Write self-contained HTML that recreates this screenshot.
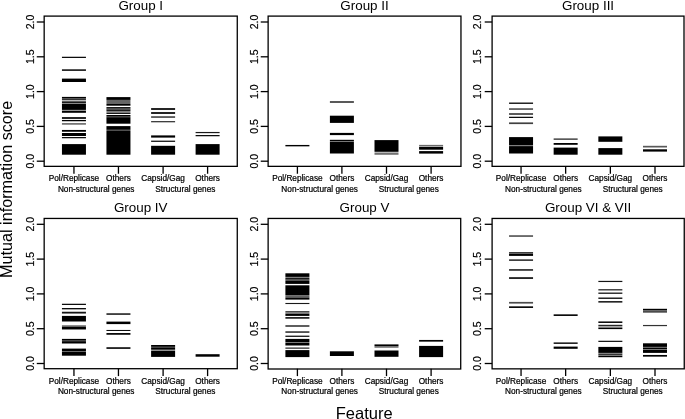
<!DOCTYPE html>
<html><head><meta charset="utf-8"><title>Mutual information score by feature</title>
<style>
html,body{margin:0;padding:0;background:#fff}
svg{display:block}
text{font-family:"Liberation Sans",Arial,Helvetica,sans-serif;fill:#000}
.t{font-size:13.4px;text-anchor:middle}
.x{font-size:8.25px;text-anchor:middle;stroke:#000;stroke-width:.22px}
.y{font-size:10.5px;text-anchor:middle;stroke:#000;stroke-width:.2px}
.b{font-size:16.3px;text-anchor:middle}
.ln{stroke:#000;stroke-width:1.3;fill:none}
</style></head>
<body>
<svg width="685" height="419" viewBox="0 0 685 419">
<rect x="0" y="0" width="685" height="419" fill="#fff"/>
<g>
<rect class="ln" x="44.17" y="16.10" width="193.10" height="150.25"/>
<text class="t" x="140.72" y="10.00">Group I</text>
<line class="ln" x1="36.77" y1="161.20" x2="44.17" y2="161.20"/>
<text class="y" transform="translate(34.37,161.20) rotate(-90)">0.0</text>
<line class="ln" x1="36.77" y1="126.40" x2="44.17" y2="126.40"/>
<text class="y" transform="translate(34.37,126.40) rotate(-90)">0.5</text>
<line class="ln" x1="36.77" y1="91.60" x2="44.17" y2="91.60"/>
<text class="y" transform="translate(34.37,91.60) rotate(-90)">1.0</text>
<line class="ln" x1="36.77" y1="56.80" x2="44.17" y2="56.80"/>
<text class="y" transform="translate(34.37,56.80) rotate(-90)">1.5</text>
<line class="ln" x1="36.77" y1="22.00" x2="44.17" y2="22.00"/>
<text class="y" transform="translate(34.37,22.00) rotate(-90)">2.0</text>
<line class="ln" x1="73.95" y1="166.35" x2="73.95" y2="173.75"/>
<text class="x" x="73.95" y="181.35">Pol/Replicase</text>
<line class="ln" x1="118.45" y1="166.35" x2="118.45" y2="173.75"/>
<text class="x" x="118.45" y="181.35">Others</text>
<line class="ln" x1="163.10" y1="166.35" x2="163.10" y2="173.75"/>
<text class="x" x="163.10" y="181.35">Capsid/Gag</text>
<line class="ln" x1="207.60" y1="166.35" x2="207.60" y2="173.75"/>
<text class="x" x="207.60" y="181.35">Others</text>
<text class="x" x="96.20" y="191.95">Non-structural genes</text>
<text class="x" x="185.35" y="191.95">Structural genes</text>
<rect x="61.95" y="56.75" width="24.00" height="1.20"/>
<rect x="61.95" y="69.25" width="24.00" height="1.70" fill-opacity="0.88"/>
<rect x="61.95" y="78.60" width="24.00" height="3.40"/>
<rect x="61.95" y="96.90" width="24.00" height="1.10"/>
<rect x="61.95" y="98.00" width="24.00" height="0.50" fill-opacity="0.7"/>
<rect x="61.95" y="98.50" width="24.00" height="1.30"/>
<rect x="61.95" y="100.10" width="24.00" height="1.20" fill-opacity="0.3"/>
<rect x="61.95" y="101.40" width="24.00" height="1.50"/>
<rect x="61.95" y="103.00" width="24.00" height="0.80" fill-opacity="0.5"/>
<rect x="61.95" y="103.90" width="24.00" height="6.00"/>
<rect x="61.95" y="110.10" width="24.00" height="0.70" fill-opacity="0.5"/>
<rect x="61.95" y="110.90" width="24.00" height="1.90"/>
<rect x="61.95" y="117.15" width="24.00" height="1.70"/>
<rect x="61.95" y="119.95" width="24.00" height="1.30"/>
<rect x="61.95" y="123.10" width="24.00" height="1.60" fill-opacity="0.6"/>
<rect x="61.95" y="129.95" width="24.00" height="1.80"/>
<rect x="61.95" y="133.00" width="24.00" height="3.00"/>
<rect x="61.95" y="137.05" width="24.00" height="1.20"/>
<rect x="61.95" y="144.10" width="24.00" height="10.60"/>
<rect x="106.45" y="97.10" width="24.00" height="2.80"/>
<rect x="106.45" y="99.90" width="24.00" height="4.10" fill-opacity="0.6"/>
<rect x="106.45" y="104.00" width="24.00" height="1.70"/>
<rect x="106.45" y="107.10" width="24.00" height="1.10"/>
<rect x="106.45" y="108.20" width="24.00" height="1.50" fill-opacity="0.78"/>
<rect x="106.45" y="109.70" width="24.00" height="1.20"/>
<rect x="106.45" y="111.00" width="24.00" height="1.90" fill-opacity="0.5"/>
<rect x="106.45" y="112.90" width="24.00" height="1.00"/>
<rect x="106.45" y="115.00" width="24.00" height="1.10"/>
<rect x="106.45" y="116.10" width="24.00" height="1.10" fill-opacity="0.78"/>
<rect x="106.45" y="117.20" width="24.00" height="6.50"/>
<rect x="106.45" y="126.10" width="24.00" height="3.70"/>
<rect x="106.45" y="129.80" width="24.00" height="1.10" fill-opacity="0.72"/>
<rect x="106.45" y="130.90" width="24.00" height="23.80"/>
<rect x="151.10" y="108.15" width="24.00" height="1.70"/>
<rect x="151.10" y="112.15" width="24.00" height="1.70"/>
<rect x="151.10" y="116.20" width="24.00" height="1.70" fill-opacity="0.7"/>
<rect x="151.10" y="121.25" width="24.00" height="1.00"/>
<rect x="151.10" y="135.40" width="24.00" height="2.20"/>
<rect x="151.10" y="140.65" width="24.00" height="1.20"/>
<rect x="151.10" y="145.80" width="24.00" height="8.90"/>
<rect x="195.60" y="131.95" width="24.00" height="1.20" fill-opacity="0.9"/>
<rect x="195.60" y="135.05" width="24.00" height="1.20"/>
<rect x="195.60" y="144.10" width="24.00" height="10.60"/>
</g>
<g>
<rect class="ln" x="268.13" y="16.10" width="192.83" height="150.25"/>
<text class="t" x="364.54" y="10.00">Group II</text>
<line class="ln" x1="260.73" y1="161.20" x2="268.13" y2="161.20"/>
<text class="y" transform="translate(257.93,161.20) rotate(-90)">0.0</text>
<line class="ln" x1="260.73" y1="126.40" x2="268.13" y2="126.40"/>
<text class="y" transform="translate(257.93,126.40) rotate(-90)">0.5</text>
<line class="ln" x1="260.73" y1="91.60" x2="268.13" y2="91.60"/>
<text class="y" transform="translate(257.93,91.60) rotate(-90)">1.0</text>
<line class="ln" x1="260.73" y1="56.80" x2="268.13" y2="56.80"/>
<text class="y" transform="translate(257.93,56.80) rotate(-90)">1.5</text>
<line class="ln" x1="260.73" y1="22.00" x2="268.13" y2="22.00"/>
<text class="y" transform="translate(257.93,22.00) rotate(-90)">2.0</text>
<line class="ln" x1="297.40" y1="166.35" x2="297.40" y2="173.75"/>
<text class="x" x="297.40" y="181.35">Pol/Replicase</text>
<line class="ln" x1="341.90" y1="166.35" x2="341.90" y2="173.75"/>
<text class="x" x="341.90" y="181.35">Others</text>
<line class="ln" x1="386.50" y1="166.35" x2="386.50" y2="173.75"/>
<text class="x" x="386.50" y="181.35">Capsid/Gag</text>
<line class="ln" x1="431.10" y1="166.35" x2="431.10" y2="173.75"/>
<text class="x" x="431.10" y="181.35">Others</text>
<text class="x" x="319.65" y="191.95">Non-structural genes</text>
<text class="x" x="408.80" y="191.95">Structural genes</text>
<rect x="285.40" y="144.95" width="24.00" height="1.40"/>
<rect x="329.90" y="101.00" width="24.00" height="2.00" fill-opacity="0.65"/>
<rect x="329.90" y="115.70" width="24.00" height="7.20"/>
<rect x="329.90" y="132.90" width="24.00" height="2.20"/>
<rect x="329.90" y="139.80" width="24.00" height="1.40"/>
<rect x="329.90" y="141.20" width="24.00" height="0.70" fill-opacity="0.5"/>
<rect x="329.90" y="141.90" width="24.00" height="11.60"/>
<rect x="374.50" y="140.10" width="24.00" height="11.70"/>
<rect x="374.50" y="152.50" width="24.00" height="2.30" fill-opacity="0.55"/>
<rect x="419.10" y="144.90" width="24.00" height="0.90" fill-opacity="0.7"/>
<rect x="419.10" y="145.90" width="24.00" height="1.00" fill-opacity="0.35"/>
<rect x="419.10" y="147.00" width="24.00" height="2.70"/>
<rect x="419.10" y="151.10" width="24.00" height="2.50"/>
</g>
<g>
<rect class="ln" x="492.10" y="16.10" width="191.90" height="150.25"/>
<text class="t" x="588.05" y="10.00">Group III</text>
<line class="ln" x1="484.70" y1="161.20" x2="492.10" y2="161.20"/>
<text class="y" transform="translate(481.30,161.20) rotate(-90)">0.0</text>
<line class="ln" x1="484.70" y1="126.40" x2="492.10" y2="126.40"/>
<text class="y" transform="translate(481.30,126.40) rotate(-90)">0.5</text>
<line class="ln" x1="484.70" y1="91.60" x2="492.10" y2="91.60"/>
<text class="y" transform="translate(481.30,91.60) rotate(-90)">1.0</text>
<line class="ln" x1="484.70" y1="56.80" x2="492.10" y2="56.80"/>
<text class="y" transform="translate(481.30,56.80) rotate(-90)">1.5</text>
<line class="ln" x1="484.70" y1="22.00" x2="492.10" y2="22.00"/>
<text class="y" transform="translate(481.30,22.00) rotate(-90)">2.0</text>
<line class="ln" x1="521.05" y1="166.35" x2="521.05" y2="173.75"/>
<text class="x" x="521.05" y="181.35">Pol/Replicase</text>
<line class="ln" x1="565.65" y1="166.35" x2="565.65" y2="173.75"/>
<text class="x" x="565.65" y="181.35">Others</text>
<line class="ln" x1="610.35" y1="166.35" x2="610.35" y2="173.75"/>
<text class="x" x="610.35" y="181.35">Capsid/Gag</text>
<line class="ln" x1="655.00" y1="166.35" x2="655.00" y2="173.75"/>
<text class="x" x="655.00" y="181.35">Others</text>
<text class="x" x="543.35" y="191.95">Non-structural genes</text>
<text class="x" x="632.67" y="191.95">Structural genes</text>
<rect x="509.05" y="102.55" width="24.00" height="1.30"/>
<rect x="509.05" y="108.35" width="24.00" height="1.40" fill-opacity="0.8"/>
<rect x="509.05" y="113.25" width="24.00" height="1.50" fill-opacity="0.85"/>
<rect x="509.05" y="116.75" width="24.00" height="1.20"/>
<rect x="509.05" y="122.40" width="24.00" height="1.70" fill-opacity="0.75"/>
<rect x="509.05" y="137.10" width="24.00" height="8.40"/>
<rect x="509.05" y="146.10" width="24.00" height="7.40"/>
<rect x="553.65" y="138.30" width="24.00" height="1.70" fill-opacity="0.65"/>
<rect x="553.65" y="143.00" width="24.00" height="1.80"/>
<rect x="553.65" y="147.60" width="24.00" height="7.10"/>
<rect x="598.35" y="136.40" width="24.00" height="5.40"/>
<rect x="598.35" y="148.10" width="24.00" height="6.60"/>
<rect x="643.00" y="145.80" width="24.00" height="1.70" fill-opacity="0.65"/>
<rect x="643.00" y="149.30" width="24.00" height="2.30"/>
</g>
<g>
<rect class="ln" x="44.17" y="218.45" width="193.10" height="150.25"/>
<text class="t" x="140.72" y="212.35">Group IV</text>
<line class="ln" x1="36.77" y1="363.50" x2="44.17" y2="363.50"/>
<text class="y" transform="translate(34.37,363.50) rotate(-90)">0.0</text>
<line class="ln" x1="36.77" y1="328.70" x2="44.17" y2="328.70"/>
<text class="y" transform="translate(34.37,328.70) rotate(-90)">0.5</text>
<line class="ln" x1="36.77" y1="293.90" x2="44.17" y2="293.90"/>
<text class="y" transform="translate(34.37,293.90) rotate(-90)">1.0</text>
<line class="ln" x1="36.77" y1="259.10" x2="44.17" y2="259.10"/>
<text class="y" transform="translate(34.37,259.10) rotate(-90)">1.5</text>
<line class="ln" x1="36.77" y1="224.30" x2="44.17" y2="224.30"/>
<text class="y" transform="translate(34.37,224.30) rotate(-90)">2.0</text>
<line class="ln" x1="73.95" y1="368.70" x2="73.95" y2="376.10"/>
<text class="x" x="73.95" y="383.70">Pol/Replicase</text>
<line class="ln" x1="118.45" y1="368.70" x2="118.45" y2="376.10"/>
<text class="x" x="118.45" y="383.70">Others</text>
<line class="ln" x1="163.10" y1="368.70" x2="163.10" y2="376.10"/>
<text class="x" x="163.10" y="383.70">Capsid/Gag</text>
<line class="ln" x1="207.60" y1="368.70" x2="207.60" y2="376.10"/>
<text class="x" x="207.60" y="383.70">Others</text>
<text class="x" x="96.20" y="394.30">Non-structural genes</text>
<text class="x" x="185.35" y="394.30">Structural genes</text>
<rect x="61.95" y="303.75" width="24.00" height="1.20"/>
<rect x="61.95" y="308.05" width="24.00" height="1.30"/>
<rect x="61.95" y="311.75" width="24.00" height="1.80" fill-opacity="0.92"/>
<rect x="61.95" y="315.90" width="24.00" height="5.60"/>
<rect x="61.95" y="325.20" width="24.00" height="1.40" fill-opacity="0.55"/>
<rect x="61.95" y="326.60" width="24.00" height="2.70"/>
<rect x="61.95" y="329.30" width="24.00" height="0.60" fill-opacity="0.4"/>
<rect x="61.95" y="338.90" width="24.00" height="1.40"/>
<rect x="61.95" y="340.30" width="24.00" height="1.70" fill-opacity="0.85"/>
<rect x="61.95" y="342.00" width="24.00" height="1.50"/>
<rect x="61.95" y="348.60" width="24.00" height="2.40"/>
<rect x="61.95" y="351.00" width="24.00" height="0.80" fill-opacity="0.6"/>
<rect x="61.95" y="351.80" width="24.00" height="3.90"/>
<rect x="106.45" y="313.35" width="24.00" height="1.40"/>
<rect x="106.45" y="321.60" width="24.00" height="2.50"/>
<rect x="106.45" y="329.95" width="24.00" height="1.00"/>
<rect x="106.45" y="333.05" width="24.00" height="1.70"/>
<rect x="106.45" y="347.25" width="24.00" height="1.60"/>
<rect x="151.10" y="345.00" width="24.00" height="1.80"/>
<rect x="151.10" y="346.80" width="24.00" height="1.10" fill-opacity="0.78"/>
<rect x="151.10" y="347.90" width="24.00" height="1.80"/>
<rect x="151.10" y="349.70" width="24.00" height="1.00" fill-opacity="0.25"/>
<rect x="151.10" y="350.70" width="24.00" height="6.20"/>
<rect x="195.60" y="354.20" width="24.00" height="2.50"/>
</g>
<g>
<rect class="ln" x="268.13" y="218.45" width="192.58" height="150.55"/>
<text class="t" x="364.54" y="212.35">Group V</text>
<line class="ln" x1="260.73" y1="363.50" x2="268.13" y2="363.50"/>
<text class="y" transform="translate(257.93,363.50) rotate(-90)">0.0</text>
<line class="ln" x1="260.73" y1="328.70" x2="268.13" y2="328.70"/>
<text class="y" transform="translate(257.93,328.70) rotate(-90)">0.5</text>
<line class="ln" x1="260.73" y1="293.90" x2="268.13" y2="293.90"/>
<text class="y" transform="translate(257.93,293.90) rotate(-90)">1.0</text>
<line class="ln" x1="260.73" y1="259.10" x2="268.13" y2="259.10"/>
<text class="y" transform="translate(257.93,259.10) rotate(-90)">1.5</text>
<line class="ln" x1="260.73" y1="224.30" x2="268.13" y2="224.30"/>
<text class="y" transform="translate(257.93,224.30) rotate(-90)">2.0</text>
<line class="ln" x1="297.40" y1="368.70" x2="297.40" y2="376.10"/>
<text class="x" x="297.40" y="383.70">Pol/Replicase</text>
<line class="ln" x1="341.90" y1="368.70" x2="341.90" y2="376.10"/>
<text class="x" x="341.90" y="383.70">Others</text>
<line class="ln" x1="386.50" y1="368.70" x2="386.50" y2="376.10"/>
<text class="x" x="386.50" y="383.70">Capsid/Gag</text>
<line class="ln" x1="431.10" y1="368.70" x2="431.10" y2="376.10"/>
<text class="x" x="431.10" y="383.70">Others</text>
<text class="x" x="319.65" y="394.30">Non-structural genes</text>
<text class="x" x="408.80" y="394.30">Structural genes</text>
<rect x="285.40" y="273.30" width="24.00" height="3.60"/>
<rect x="285.40" y="276.90" width="24.00" height="1.20" fill-opacity="0.5"/>
<rect x="285.40" y="278.10" width="24.00" height="1.40"/>
<rect x="285.40" y="279.50" width="24.00" height="1.40" fill-opacity="0.7"/>
<rect x="285.40" y="280.90" width="24.00" height="3.00"/>
<rect x="285.40" y="285.30" width="24.00" height="9.90"/>
<rect x="285.40" y="295.20" width="24.00" height="1.00" fill-opacity="0.55"/>
<rect x="285.40" y="296.20" width="24.00" height="1.60" fill-opacity="0.7"/>
<rect x="285.40" y="297.80" width="24.00" height="1.80"/>
<rect x="285.40" y="302.95" width="24.00" height="1.10" fill-opacity="0.9"/>
<rect x="285.40" y="311.00" width="24.00" height="1.30" fill-opacity="0.7"/>
<rect x="285.40" y="312.30" width="24.00" height="1.50" fill-opacity="0.5"/>
<rect x="285.40" y="313.80" width="24.00" height="2.10"/>
<rect x="285.40" y="317.15" width="24.00" height="1.50"/>
<rect x="285.40" y="325.10" width="24.00" height="1.80" fill-opacity="0.7"/>
<rect x="285.40" y="331.25" width="24.00" height="1.60" fill-opacity="0.8"/>
<rect x="285.40" y="335.65" width="24.00" height="1.20"/>
<rect x="285.40" y="338.90" width="24.00" height="3.20"/>
<rect x="285.40" y="342.10" width="24.00" height="0.80" fill-opacity="0.5"/>
<rect x="285.40" y="342.90" width="24.00" height="2.60"/>
<rect x="285.40" y="347.40" width="24.00" height="1.50" fill-opacity="0.7"/>
<rect x="285.40" y="350.10" width="24.00" height="7.00"/>
<rect x="329.90" y="351.30" width="24.00" height="4.70"/>
<rect x="374.50" y="344.40" width="24.00" height="1.70"/>
<rect x="374.50" y="346.10" width="24.00" height="1.70" fill-opacity="0.55"/>
<rect x="374.50" y="350.50" width="24.00" height="6.30"/>
<rect x="419.10" y="339.95" width="24.00" height="1.70"/>
<rect x="419.10" y="345.90" width="24.00" height="11.20"/>
</g>
<g>
<rect class="ln" x="492.10" y="218.45" width="192.15" height="150.40"/>
<text class="t" x="588.05" y="212.35">Group VI &amp; VII</text>
<line class="ln" x1="484.70" y1="363.50" x2="492.10" y2="363.50"/>
<text class="y" transform="translate(481.30,363.50) rotate(-90)">0.0</text>
<line class="ln" x1="484.70" y1="328.70" x2="492.10" y2="328.70"/>
<text class="y" transform="translate(481.30,328.70) rotate(-90)">0.5</text>
<line class="ln" x1="484.70" y1="293.90" x2="492.10" y2="293.90"/>
<text class="y" transform="translate(481.30,293.90) rotate(-90)">1.0</text>
<line class="ln" x1="484.70" y1="259.10" x2="492.10" y2="259.10"/>
<text class="y" transform="translate(481.30,259.10) rotate(-90)">1.5</text>
<line class="ln" x1="484.70" y1="224.30" x2="492.10" y2="224.30"/>
<text class="y" transform="translate(481.30,224.30) rotate(-90)">2.0</text>
<line class="ln" x1="521.05" y1="368.70" x2="521.05" y2="376.10"/>
<text class="x" x="521.05" y="383.70">Pol/Replicase</text>
<line class="ln" x1="565.65" y1="368.70" x2="565.65" y2="376.10"/>
<text class="x" x="565.65" y="383.70">Others</text>
<line class="ln" x1="610.35" y1="368.70" x2="610.35" y2="376.10"/>
<text class="x" x="610.35" y="383.70">Capsid/Gag</text>
<line class="ln" x1="655.00" y1="368.70" x2="655.00" y2="376.10"/>
<text class="x" x="655.00" y="383.70">Others</text>
<text class="x" x="543.35" y="394.30">Non-structural genes</text>
<text class="x" x="632.67" y="394.30">Structural genes</text>
<rect x="509.05" y="235.20" width="24.00" height="1.70" fill-opacity="0.65"/>
<rect x="509.05" y="252.05" width="24.00" height="0.90" fill-opacity="0.85"/>
<rect x="509.05" y="253.40" width="24.00" height="2.50"/>
<rect x="509.05" y="259.45" width="24.00" height="1.30"/>
<rect x="509.05" y="269.25" width="24.00" height="1.40"/>
<rect x="509.05" y="277.25" width="24.00" height="1.60"/>
<rect x="509.05" y="301.90" width="24.00" height="1.70" fill-opacity="0.7"/>
<rect x="509.05" y="306.35" width="24.00" height="1.60"/>
<rect x="553.65" y="314.35" width="24.00" height="1.60"/>
<rect x="553.65" y="342.45" width="24.00" height="1.40"/>
<rect x="553.65" y="346.60" width="24.00" height="2.20"/>
<rect x="598.35" y="280.85" width="24.00" height="1.20" fill-opacity="0.92"/>
<rect x="598.35" y="289.15" width="24.00" height="1.30" fill-opacity="0.85"/>
<rect x="598.35" y="292.55" width="24.00" height="1.30" fill-opacity="0.92"/>
<rect x="598.35" y="297.55" width="24.00" height="1.30"/>
<rect x="598.35" y="301.15" width="24.00" height="1.40"/>
<rect x="598.35" y="321.45" width="24.00" height="1.50"/>
<rect x="598.35" y="324.80" width="24.00" height="1.30" fill-opacity="0.85"/>
<rect x="598.35" y="326.10" width="24.00" height="1.50" fill-opacity="0.3"/>
<rect x="598.35" y="327.60" width="24.00" height="1.50"/>
<rect x="598.35" y="340.75" width="24.00" height="1.20" fill-opacity="0.95"/>
<rect x="598.35" y="346.90" width="24.00" height="6.00"/>
<rect x="598.35" y="352.90" width="24.00" height="0.80" fill-opacity="0.45"/>
<rect x="598.35" y="353.70" width="24.00" height="1.20" fill-opacity="0.88"/>
<rect x="598.35" y="354.90" width="24.00" height="0.70" fill-opacity="0.3"/>
<rect x="598.35" y="355.60" width="24.00" height="1.60"/>
<rect x="643.00" y="308.80" width="24.00" height="1.60"/>
<rect x="643.00" y="310.40" width="24.00" height="0.50" fill-opacity="0.5"/>
<rect x="643.00" y="310.90" width="24.00" height="1.80" fill-opacity="0.7"/>
<rect x="643.00" y="324.95" width="24.00" height="1.20" fill-opacity="0.8"/>
<rect x="643.00" y="343.30" width="24.00" height="3.60"/>
<rect x="643.00" y="346.90" width="24.00" height="0.80" fill-opacity="0.6"/>
<rect x="643.00" y="347.70" width="24.00" height="1.30"/>
<rect x="643.00" y="349.00" width="24.00" height="0.80" fill-opacity="0.5"/>
<rect x="643.00" y="349.80" width="24.00" height="3.10"/>
<rect x="643.00" y="354.95" width="24.00" height="1.70"/>
</g>
<text class="b" style="font-size:16.2px" transform="translate(12.2,189.4) rotate(-90)">Mutual information score</text>
<text class="b" style="font-size:16.5px" x="364.2" y="419.4">Feature</text>
</svg>
</body></html>
